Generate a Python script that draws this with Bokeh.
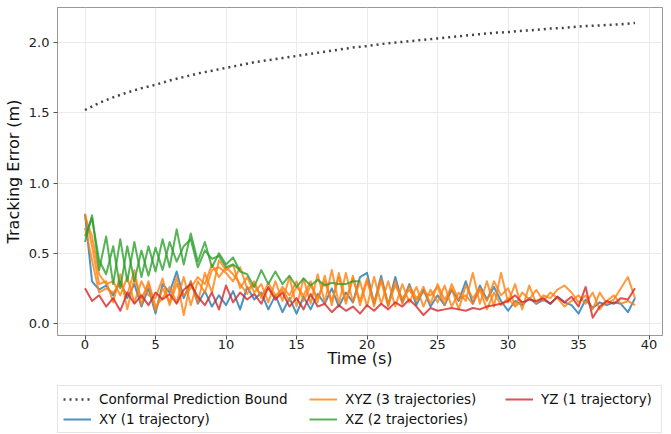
import numpy as np
from bokeh.plotting import figure
from bokeh.layouts import column
from bokeh.models import Legend, LegendItem, FixedTicker, CustomJSTickFormatter
from bokeh.embed import file_html
from bokeh.resources import INLINE

# ---------------- data ----------------
time_step = 0.5  # seconds between samples

bound_t = [0, 1, 2, 3, 4, 5, 6, 7, 8, 9, 10, 11, 12, 13, 14, 15, 16, 17, 18, 19,
           20, 21, 22, 23, 24, 25, 26, 27, 28, 29, 30, 31, 32, 33, 34, 35, 36, 37, 38, 39]
bound_v = [1.52, 1.57, 1.61, 1.645, 1.675, 1.70, 1.73, 1.755, 1.78, 1.80,
           1.82, 1.84, 1.86, 1.875, 1.89, 1.905, 1.92, 1.935, 1.95, 1.965,
           1.975, 1.99, 2.00, 2.01, 2.02, 2.03, 2.04, 2.05, 2.06, 2.07,
           2.075, 2.085, 2.09, 2.10, 2.105, 2.115, 2.12, 2.125, 2.13, 2.14]

xy_1 = [0.78, 0.30, 0.24, 0.27, 0.20, 0.30, 0.18, 0.28, 0.12, 0.25,
        0.07, 0.28, 0.22, 0.37, 0.18, 0.30, 0.14, 0.23, 0.12, 0.20,
        0.13, 0.23, 0.10, 0.26, 0.17, 0.22, 0.10, 0.20, 0.08, 0.18,
        0.07, 0.19, 0.10, 0.21, 0.14, 0.25, 0.12, 0.22, 0.15, 0.33,
        0.36, 0.14, 0.34, 0.13, 0.33, 0.15, 0.28, 0.13, 0.24, 0.12,
        0.20, 0.13, 0.24, 0.16, 0.30, 0.14, 0.27, 0.17, 0.26, 0.16,
        0.09, 0.16, 0.13, 0.18, 0.14, 0.17, 0.14, 0.19, 0.15, 0.13,
        0.07, 0.17, 0.11, 0.15, 0.13, 0.15, 0.14, 0.08, 0.18]

xyz_1 = [0.78, 0.55, 0.28, 0.30, 0.15, 0.35, 0.10, 0.32, 0.18, 0.28,
         0.09, 0.25, 0.15, 0.33, 0.06, 0.30, 0.15, 0.36, 0.22, 0.45,
         0.38, 0.42, 0.25, 0.33, 0.22, 0.28, 0.15, 0.30, 0.16, 0.33,
         0.12, 0.32, 0.14, 0.35, 0.15, 0.38, 0.14, 0.36, 0.15, 0.30,
         0.12, 0.33, 0.14, 0.30, 0.12, 0.28, 0.15, 0.26, 0.12, 0.24,
         0.15, 0.27, 0.12, 0.22, 0.16, 0.36, 0.14, 0.30, 0.12, 0.36,
         0.15, 0.28, 0.10, 0.27, 0.14, 0.20, 0.18, 0.24, 0.27, 0.22,
         0.15, 0.20, 0.10, 0.22, 0.14, 0.17, 0.25, 0.33, 0.18]

xyz_2 = [0.68, 0.45, 0.22, 0.25, 0.22, 0.28, 0.20, 0.38, 0.13, 0.30,
         0.12, 0.18, 0.26, 0.15, 0.33, 0.13, 0.30, 0.22, 0.38, 0.40,
         0.36, 0.30, 0.40, 0.25, 0.27, 0.20, 0.25, 0.17, 0.26, 0.20,
         0.30, 0.16, 0.27, 0.18, 0.30, 0.16, 0.33, 0.14, 0.32, 0.16,
         0.32, 0.12, 0.32, 0.14, 0.27, 0.18, 0.24, 0.16, 0.26, 0.14,
         0.28, 0.17, 0.25, 0.10, 0.27, 0.18, 0.25, 0.16, 0.30, 0.20,
         0.25, 0.13, 0.22, 0.17, 0.24, 0.16, 0.22, 0.18, 0.12, 0.16,
         0.20, 0.14, 0.22, 0.10, 0.16, 0.20, 0.14, 0.16, 0.13]

xyz_3 = [0.76, 0.62, 0.35, 0.28, 0.30, 0.20, 0.33, 0.15, 0.30, 0.20,
         0.18, 0.32, 0.13, 0.28, 0.20, 0.25, 0.33, 0.28, 0.42, 0.33,
         0.40, 0.35, 0.28, 0.21, 0.30, 0.18, 0.29, 0.20, 0.24, 0.16,
         0.26, 0.20, 0.30, 0.15, 0.34, 0.13, 0.36, 0.16, 0.34, 0.13,
         0.30, 0.15, 0.30, 0.12, 0.30, 0.14, 0.27, 0.18, 0.22, 0.20,
         0.26, 0.13, 0.28, 0.17, 0.20, 0.14, 0.24, 0.10, 0.22, 0.13,
         0.18, 0.12, 0.16]

xz_1 = [0.58, 0.77, 0.38, 0.62, 0.28, 0.60, 0.30, 0.58, 0.33, 0.55,
        0.37, 0.60, 0.40, 0.67, 0.42, 0.64, 0.44, 0.58, 0.40, 0.50,
        0.42, 0.47, 0.37, 0.35, 0.26, 0.38, 0.28, 0.37, 0.28, 0.34,
        0.26, 0.32, 0.27, 0.31, 0.27, 0.29, 0.28, 0.28, 0.30, 0.30]

xz_2 = [0.62, 0.75, 0.45, 0.35, 0.55, 0.25, 0.55, 0.30, 0.52, 0.34,
        0.54, 0.38, 0.58, 0.44, 0.55, 0.60, 0.40, 0.52, 0.46, 0.48,
        0.40, 0.42, 0.38]

yz_1 = [0.25, 0.16, 0.20, 0.12, 0.18, 0.09, 0.22, 0.14, 0.20, 0.13,
        0.22, 0.17, 0.21, 0.14, 0.24, 0.28, 0.19, 0.13, 0.22, 0.10,
        0.27, 0.15, 0.22, 0.17, 0.21, 0.14, 0.26, 0.17, 0.22, 0.12,
        0.18, 0.10, 0.21, 0.12, 0.14, 0.08, 0.13, 0.09, 0.12, 0.07,
        0.13, 0.09, 0.14, 0.10, 0.15, 0.12, 0.17, 0.12, 0.06, 0.11,
        0.09, 0.10, 0.11, 0.10, 0.09, 0.11, 0.10, 0.12, 0.13, 0.14,
        0.16, 0.20, 0.15, 0.17, 0.16, 0.18, 0.14, 0.19, 0.15, 0.19,
        0.12, 0.26, 0.04, 0.12, 0.16, 0.14, 0.18, 0.17, 0.25]

x_ticks = [0, 5, 10, 15, 20, 25, 30, 35, 40]
y_ticks = [0.0, 0.5, 1.0, 1.5, 2.0]

labels = ["Conformal Prediction Bound", "XY (1 trajectory)", "XYZ (3 trajectories)",
          "XZ (2 trajectories)", "YZ (1 trajectory)"]
colors = ["#444444", "#1f77b4", "#ff7f0e", "#2ca02c", "#d62728"]

groups = [[xy_1], [xyz_1, xyz_2, xyz_3], [xz_1, xz_2], [yz_1]]

FONT = "DejaVu Sans"
BOUND_STYLE = dict(line_color=colors[0], line_width=2.5, line_dash="2 4")

# ---------------- main figure ----------------
p = figure(width=671, height=375, x_range=(-1.95, 40.95), y_range=(-0.086, 2.25),
           output_backend="svg", toolbar_location=None,
           min_border_left=57, min_border_right=9, min_border_top=7,
           min_border_bottom=40)
p.background_fill_color = "white"
p.border_fill_color = "white"
p.outline_line_color = "#999999"
p.outline_line_width = 1

p.xaxis.ticker = FixedTicker(ticks=x_ticks)
p.yaxis.ticker = FixedTicker(ticks=y_ticks)
p.yaxis.formatter = CustomJSTickFormatter(code="return tick.toFixed(1);")

for ax in (p.xaxis, p.yaxis):
    ax.axis_line_color = "#999999"
    ax.major_tick_line_color = "#555555"
    ax.major_tick_out = 4
    ax.major_tick_in = 0
    ax.minor_tick_line_color = None
    ax.major_label_text_font = FONT
    ax.major_label_text_font_size = "13px"
    ax.major_label_text_color = "#222222"
    ax.axis_label_text_font = FONT
    ax.axis_label_text_font_size = "16px"
    ax.axis_label_text_font_style = "normal"
    ax.axis_label_text_color = "#111111"
p.xaxis.axis_label = "Time (s)"
p.yaxis.axis_label = "Tracking Error (m)"
p.xaxis.major_label_standoff = 0
p.xaxis.axis_label_standoff = -3
p.yaxis.major_label_standoff = 4
p.yaxis.axis_label_standoff = 3

p.grid.grid_line_color = "#ebebeb"
p.grid.grid_line_width = 1

p.line(bound_t, bound_v, **BOUND_STYLE)
for gi, grp in enumerate(groups):
    for s in grp:
        t = [i * time_step for i in range(len(s))]
        p.line(t, s, line_color=colors[gi + 1], line_width=2, line_alpha=0.8,
               line_join="round")

# ---------------- legend strip (below the plot) ----------------
# its frame lines up with the main frame (57..662 px); the series are drawn
# again here only as legend proxies, outside this strip's visible y-range
q = figure(width=671, height=59, x_range=(-1.95, 40.95), y_range=(10, 11),
           output_backend="svg", toolbar_location=None,
           min_border_left=57, min_border_right=9, min_border_top=0, min_border_bottom=0)
q.axis.visible = False
q.grid.visible = False
q.outline_line_color = None
q.background_fill_color = "white"
q.border_fill_color = "white"

proxies = [q.line(bound_t, bound_v, **BOUND_STYLE)]
for gi, grp in enumerate(groups):
    s = grp[0]
    t = [i * time_step for i in range(len(s))]
    proxies.append(q.line(t, s, line_color=colors[gi + 1], line_width=2, line_alpha=0.8))
items = [LegendItem(label=lab, renderers=[r]) for lab, r in zip(labels, proxies)]

common = dict(label_text_font=FONT, label_text_font_size="13.5px",
              label_text_color="#111111",
              glyph_width=28, glyph_height=16, label_standoff=8, spacing=4,
              padding=5, margin=0)
leg1 = Legend(items=[items[0], items[1]], location=(0, 1), label_width=557,
              border_line_color="#cccccc", background_fill_color="white",
              background_fill_alpha=1, **common)
leg2 = Legend(items=[items[2], items[3]], location=(252, 7),
              border_line_color=None, background_fill_alpha=0, **common)
leg3 = Legend(items=[items[4]], location=(448, 27),
              border_line_color=None, background_fill_alpha=0, **common)
for lg in (leg1, leg2, leg3):
    q.add_layout(lg, "center")

layout = column(p, q, spacing=0)
open("out.html", "w").write(file_html(layout, INLINE))
